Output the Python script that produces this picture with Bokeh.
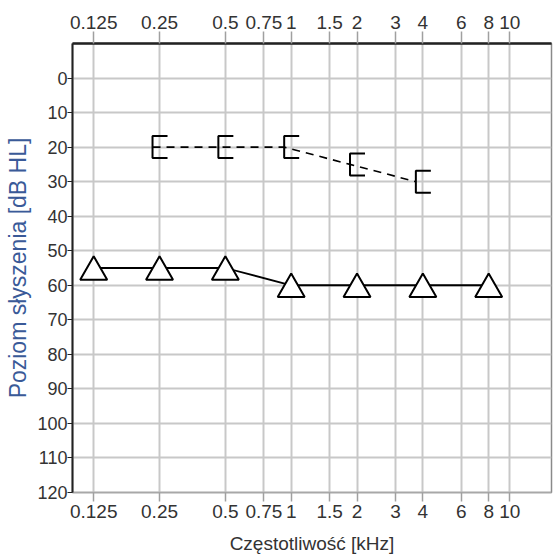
import math
from bokeh.plotting import figure
from bokeh.models import Range1d, FixedTicker, LogAxis
from bokeh.embed import file_html
from bokeh.resources import INLINE

# ---- data ----
FREQ_TICKS = [0.125, 0.25, 0.5, 0.75, 1, 1.5, 2, 3, 4, 6, 8, 10]
FREQ_LABELS = ["0.125", "0.25", "0.5", "0.75", "1", "1.5", "2", "3", "4", "6", "8", "10"]
DB_TICKS = [0, 10, 20, 30, 40, 50, 60, 70, 80, 90, 100, 110, 120]
BONE_FREQ = [0.25, 0.5, 1, 2, 4]
BONE_DB = [20, 20, 20, 25, 30]
AIR_FREQ = [0.125, 0.25, 0.5, 1, 2, 4, 8]
AIR_DB = [55, 55, 55, 60, 60, 60, 60]
Y_LABEL = "Poziom słyszenia [dB HL]"
X_LABEL = "Częstotliwość [kHz]"

# ---- layout ----
XMIN, XMAX = 0.1, 15.5
YTOP, YBOT = -10, 120
FW, FH = 479, 449
PX_PER_OCT = FW / math.log2(XMAX / XMIN)
PX_PER_DB = FH / (YBOT - YTOP)

TICK_FONT = "Liberation Sans"
overrides = {v: l for v, l in zip(FREQ_TICKS, FREQ_LABELS)}

p = figure(x_axis_type="log", x_range=Range1d(XMIN, XMAX), y_range=Range1d(YBOT, YTOP),
           frame_width=FW, frame_height=FH, output_backend="svg", toolbar_location=None,
           min_border_left=72, min_border_right=2, min_border_top=43, min_border_bottom=58)
p.background_fill_color = "white"
p.border_fill_color = "white"
p.outline_line_color = "#8a8a8a"
p.outline_line_width = 1.5

# grids
p.xgrid.ticker = FixedTicker(ticks=FREQ_TICKS)
p.ygrid.ticker = FixedTicker(ticks=DB_TICKS)
for g in (p.xgrid[0], p.ygrid[0]):
    g.grid_line_color = "#c8c8c8"
    g.grid_line_width = 2

def style_x(ax):
    ax.ticker = FixedTicker(ticks=FREQ_TICKS)
    ax.major_label_overrides = overrides
    ax.major_tick_line_color = "#a0a0a0"
    ax.major_tick_line_width = 1.5
    ax.major_tick_in = 0
    ax.minor_tick_line_color = None
    ax.major_label_text_font = TICK_FONT
    ax.major_label_text_font_size = "19px"
    ax.major_label_text_color = "#333333"

xb = p.xaxis[0]
style_x(xb)
xb.major_tick_out = 9
xb.major_label_standoff = 3
xb.axis_line_color = "#a8a8a8"
xb.axis_line_width = 1.5
xb.axis_label = X_LABEL
xb.axis_label_text_font = TICK_FONT
xb.axis_label_text_font_size = "19px"
xb.axis_label_text_font_style = "normal"
xb.axis_label_text_color = "#333333"
xb.axis_label_standoff = 12

xt = LogAxis()
style_x(xt)
xt.major_tick_out = 12
xt.major_label_standoff = 3
xt.axis_line_color = "#222222"
xt.axis_line_width = 2.5
p.add_layout(xt, "above")

ya = p.yaxis[0]
ya.ticker = FixedTicker(ticks=DB_TICKS)
ya.major_tick_out = 5
ya.major_tick_in = 0
ya.major_label_standoff = 0
ya.minor_tick_line_color = None
ya.major_tick_line_color = "#222222"
ya.axis_line_color = "#222222"
ya.axis_line_width = 2
ya.major_label_text_font = TICK_FONT
ya.major_label_text_font_size = "18px"
ya.major_label_text_color = "#333333"
ya.axis_label = Y_LABEL
ya.axis_label_text_font = TICK_FONT
ya.axis_label_text_font_size = "23px"
ya.axis_label_text_font_style = "normal"
ya.axis_label_text_color = "#3a5a98"
ya.axis_label_standoff = 3

# ---- bone conduction: brackets with dashed line ----
bar_dx = 2 ** (-7 / PX_PER_OCT)
arm_dx = 2 ** (8 / PX_PER_OCT)
half_h = 11 / PX_PER_DB
bar_x = [f * bar_dx for f in BONE_FREQ]
p.line(bar_x, BONE_DB, line_color="black", line_width=1.6, line_dash="8 6")
bxs = [[f * arm_dx, f * bar_dx, f * bar_dx, f * arm_dx] for f in BONE_FREQ]
bys = [[d - half_h, d - half_h, d + half_h, d + half_h] for d in BONE_DB]
p.multi_line(bxs, bys, line_color="black", line_width=2)

# ---- air conduction: triangles with solid line ----
TRI_SIZE = 27
tri_shift = (TRI_SIZE / 2 * math.sqrt(3)) / 6 / PX_PER_DB
p.line(AIR_FREQ, AIR_DB, line_color="black", line_width=1.8)
p.scatter(AIR_FREQ, [d + tri_shift for d in AIR_DB], marker="triangle",
          size=TRI_SIZE, fill_color="white", line_color="black", line_width=2)

open("out.html", "w").write(file_html(p, INLINE))
